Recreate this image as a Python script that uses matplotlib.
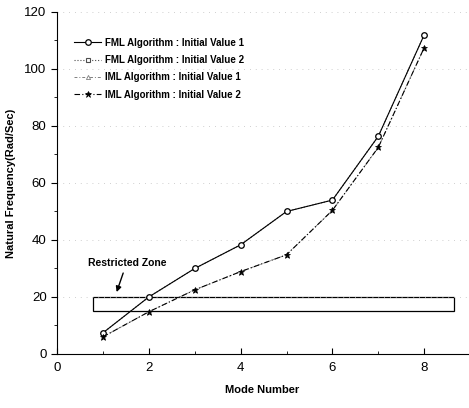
import matplotlib
matplotlib.use("Agg")
import matplotlib.pyplot as plt
from matplotlib.patches import Rectangle
from matplotlib.ticker import MultipleLocator

plt.rcParams['font.family'] = ['Liberation Sans', 'DejaVu Sans']

modes = [1, 2, 3, 4, 5, 6, 7, 8]
fml_v1 = [7.4, 20.0, 30.0, 38.3, 50.0, 54.0, 76.4, 112.0]
fml_v2 = [7.4, 20.0, 30.0, 38.3, 50.0, 54.0, 76.4, 112.0]
iml_v1 = [6.0, 14.8, 22.5, 28.9, 34.8, 50.4, 72.5, 107.5]
iml_v2 = [6.0, 14.8, 22.5, 28.9, 34.8, 50.4, 72.5, 107.5]
labels = ["FML Algorithm : Initial Value 1", "FML Algorithm : Initial Value 2",
          "IML Algorithm : Initial Value 1", "IML Algorithm : Initial Value 2"]
zone_x = (0.78, 8.65)
zone_y = (15.0, 20.0)

fig = plt.figure(figsize=(4.69, 4.08), dpi=100)
ax = fig.add_axes([0.1215, 0.1324, 0.876, 0.8382])

ax.plot(modes, fml_v2, linestyle=':', color='0.3', lw=0.8, marker='s', ms=3.5,
        mfc='white', mec='0.3', mew=0.8, label=labels[1])
ax.plot(modes, iml_v1, linestyle=(0, (3, 2, 1, 2)), color='0.5', lw=0.7, marker='^', ms=3,
        mfc='white', mec='0.5', mew=0.6, label=labels[2])
ax.plot(modes, fml_v1, linestyle='-', color='black', lw=0.8, marker='o', ms=4,
        mfc='white', mec='black', mew=0.9, label=labels[0])
ax.plot(modes, iml_v2, linestyle=(0, (5, 2, 1, 2)), color='black', lw=0.8, marker='*', ms=4.5,
        mfc='black', mec='black', mew=0.5, label=labels[3])

ax.add_patch(Rectangle((zone_x[0], zone_y[0]), zone_x[1] - zone_x[0], zone_y[1] - zone_y[0],
                       fill=False, edgecolor='black', lw=0.9))
ax.annotate("Restricted Zone", xy=(1.28, 20.8), xytext=(1.52, 30.3),
            fontsize=7.5, fontweight='bold', ha='center', va='bottom',
            arrowprops=dict(arrowstyle='-|>', color='black', lw=1.0, mutation_scale=8))

ax.set_xlim(0, 8.95)
ax.set_ylim(0, 120)
ax.xaxis.set_major_locator(MultipleLocator(2))
ax.xaxis.set_minor_locator(MultipleLocator(1))
ax.yaxis.set_major_locator(MultipleLocator(20))
ax.yaxis.set_minor_locator(MultipleLocator(10))
ax.tick_params(axis='x', direction='in', length=4, labelsize=9.5, pad=6)
ax.tick_params(axis='x', which='minor', direction='in', length=2.5)
ax.tick_params(axis='y', direction='out', length=4, labelsize=9.5)
ax.tick_params(axis='y', which='minor', direction='out', length=2.5)
ax.spines['top'].set_visible(False)
ax.spines['right'].set_visible(False)
ax.grid(axis='y', which='major', linestyle=(0, (1, 6)), color='0.75', lw=0.6)

ax.set_xlabel("Mode Number", fontsize=8, fontweight='bold', labelpad=8)
ax.set_ylabel("Natural Frequency(Rad/Sec)", fontsize=8, fontweight='bold', labelpad=6)

handles, labs = ax.get_legend_handles_labels()
order = [labs.index(l) for l in labels]
leg = ax.legend([handles[i] for i in order], [labs[i] for i in order],
                loc='upper left', bbox_to_anchor=(0.02, 0.95), frameon=False,
                prop={'size': 7, 'weight': 'bold'}, handlelength=2.8,
                handletextpad=0.4, labelspacing=0.75)

fig.savefig("out.png", dpi=100)
